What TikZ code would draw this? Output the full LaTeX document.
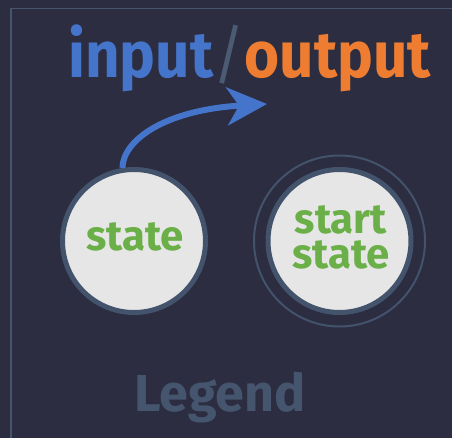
\documentclass[tikz,border=0pt]{standalone}
\usepackage{fontspec}
\setmainfont{Fira Sans}
\usetikzlibrary{arrows.meta}
\definecolor{bgnavy}{HTML}{2C2D41}
\definecolor{framegrey}{HTML}{45556E}
\definecolor{ringgrey}{HTML}{42536B}
\definecolor{fillgrey}{HTML}{E6E6E6}
\definecolor{inblue}{HTML}{4574CB}
\definecolor{outorange}{HTML}{EE7D31}
\definecolor{labelgreen}{HTML}{6AAF47}
\definecolor{slashgrey}{HTML}{4A5B73}
\tikzset{
  statecircle/.style={circle, draw=ringgrey, fill=fillgrey, line width=5pt,
    minimum size=143pt, inner sep=0pt},
  startring/.style={circle, draw=ringgrey, line width=2pt,
    minimum size=171pt, inner sep=0pt},
  statetext/.style={text=labelgreen, font=\fontsize{42}{35}\selectfont\bfseries,
    inner sep=0pt, anchor=base, align=center},
  titletext/.style={font=\fontsize{65}{65}\selectfont\bfseries, inner sep=0pt, anchor=base},
  legendtext/.style={text=framegrey, font=\fontsize{52}{52}\selectfont\bfseries,
    inner sep=0pt, anchor=base},
  flow/.style={draw=inblue, line width=6pt,
    -{Stealth[length=40pt, width=38pt, inset=12pt]}},
}
\begin{document}
\begin{tikzpicture}[x=1pt, y=-1pt]
  % canvas and the frame that runs off the right and bottom edges
  \fill[bgnavy] (0,0) rectangle (452,438);
  \useasboundingbox (0,0) rectangle (452,438);
  \draw[framegrey, line width=1.5pt] (11,8.5) rectangle (470,460);

  % title
  \node[titletext] (title) at (249.5,78)
    {\scalebox{0.925}[1]{\textcolor{inblue}{input}\textcolor{slashgrey}{\fontseries{m}\selectfont/}\textcolor{outorange}{output}}};

  % ordinary state
  \node[statecircle] (s1) at (134,241) {};
  \node[statetext] (s1txt) at (135,251) {state};

  % start state with its outer ring
  \node[startring] (s2ring) at (339.5,241) {};
  \node[statecircle] (s2) at (339.5,241) {};
  \node[statetext] (s2txt) at (341,268) {start\\state};

  % transition arrow
  \coordinate (tip) at (267,104);
  \draw[flow] (s1.99) .. controls (123,140) and (165,110) .. (tip);

  % caption
  \node[legendtext] (legend) at (220,411) {Legend};
\end{tikzpicture}
\end{document}
